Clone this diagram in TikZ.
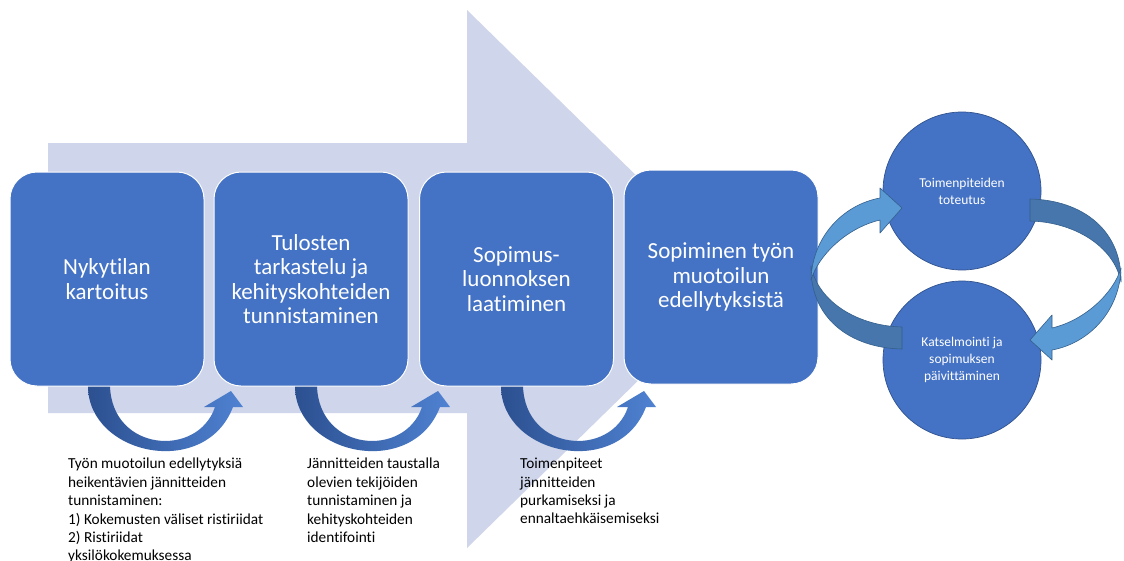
\documentclass[tikz,border=0pt]{standalone}
\usepackage{fontspec}
\setmainfont{Carlito}[Ligatures=NoCommon]
\definecolor{boxblue}{HTML}{4472C4}
\definecolor{lightarrow}{HTML}{CFD5EA}
\definecolor{circedge}{HTML}{2F528F}
\definecolor{ribbonlight}{HTML}{5B9BD5}
\definecolor{ribbondark}{HTML}{4676AC}
\definecolor{ribbonedge}{HTML}{345F8C}
\definecolor{curvedark}{HTML}{2C5090}
\definecolor{curvelight}{HTML}{4F82D2}
\begin{document}
\begin{tikzpicture}[x=1pt,y=-1pt]
\tikzset{
  stepbox/.style={draw=white, line width=1pt, fill=boxblue, rounded corners=27pt,
    minimum width=194pt, minimum height=214pt, inner sep=0pt, align=center,
    text=white, font=\fontsize{23}{24.5}\selectfont},
  circ/.style={circle, draw=circedge, line width=0.7pt, fill=boxblue, minimum size=158pt,
    inner sep=0pt, align=center, text=white, font=\fontsize{13.5}{17}\selectfont},
  note/.style={anchor=north west, align=left, inner sep=0pt, text=black,
    font=\fontsize{15.3}{18.4}\selectfont},
  curvearrow/.style={left color=curvedark, right color=curvelight, draw=none},
  ribbonL/.style={fill=ribbonlight, draw=ribbonedge, line width=0.6pt, line join=round},
  ribbonD/.style={fill=ribbondark, draw=ribbonedge, line width=0.6pt, line join=round}
}
\useasboundingbox (0,0) rectangle (1124,560);
\fill[white] (0,0) rectangle (1124,560);

% big background arrow
\fill[lightarrow] (48,143) -- (467,143) -- (467,10) -- (742,279) -- (467,548)
  -- (467,413) -- (48,413) -- cycle;

% curved arrows under the boxes
\foreach \dx in {0,207,413}{
  \begin{scope}[xshift=\dx pt]
    \path[curvearrow] (88,378) -- (88,386) .. controls (88,455) and (205,480) .. (233,407)
      -- (243,407) -- (231,391) -- (204,407) -- (215,407)
      .. controls (198,458) and (112,452) .. (110,386) -- (110,378) -- cycle;
  \end{scope}
}

% process boxes
\node[stepbox] (b1) at (107,279) {Nykytilan\\kartoitus};
\node[stepbox] (b2) at (311,279) {Tulosten\\tarkastelu ja\\kehityskohteiden\\tunnistaminen};
\node[stepbox] (b3) at (516.5,279) {Sopimus-\\luonnoksen\\laatiminen};
\node[stepbox] (b4) at (721,277) {Sopiminen työn\\muotoilun\\edellytyksistä};

% notes
\node[note] (n1) at (68,458) {Työn muotoilun edellytyksiä\\heikentävien jännitteiden\\tunnistaminen:\\1) Kokemusten väliset ristiriidat\\2) Ristiriidat\\yksilökokemuksessa};
\node[note] (n2) at (307,458) {Jännitteiden taustalla\\olevien tekijöiden\\tunnistaminen ja\\kehityskohteiden\\identifointi};
\node[note] (n3) at (520,458) {Toimenpiteet\\jännitteiden\\purkamiseksi ja\\ennaltaehkäisemiseksi};

% cycle circles
\node[circ] (c1) at (962,191) {Toimenpiteiden\\toteutus};
\node[circ] (c2) at (962,360) {Katselmointi ja\\sopimuksen\\päivittäminen};

% circular ribbon arrows
\foreach \ang in {0,180}{
  \begin{scope}[rotate around={\ang:(966,274)}]
    \path[ribbonD] (811,266) .. controls (818,302) and (858,326) .. (902,327) -- (902,349)
      .. controls (850,348) and (810,318) .. (811,266) -- cycle;
    \path[ribbonL] (880,198) .. controls (842,205) and (812,238) .. (811,280)
      .. controls (818,256) and (846,228) .. (880,220) -- (880,233) -- (902,208)
      -- (880,188) -- cycle;
  \end{scope}
}
\end{tikzpicture}
\end{document}
